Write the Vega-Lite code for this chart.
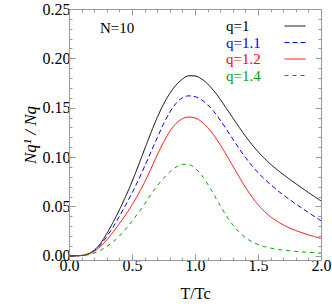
{
  "$schema": "https://vega.github.io/schema/vega-lite/v6.json",
  "width": 252,
  "height": 251,
  "autosize": {"type": "none"},
  "padding": {"left": 69, "top": 9, "right": 11, "bottom": 48},
  "config": {
    "view": {"stroke": null},
    "axis": {
      "domainColor": "#999999",
      "tickColor": "#999999",
      "labelFont": "Liberation Serif",
      "labelFontSize": 16,
      "labelColor": "#000000",
      "titleFont": "Liberation Serif",
      "titleFontSize": 16,
      "titleFontWeight": "normal",
      "titleColor": "#000000",
      "grid": false
    }
  },
  "datasets": {
    "curves": [
      {"T": 0, "q1": 0, "q11": 0, "q12": 0, "q14": 0},
      {"T": 0.05, "q1": 0, "q11": 0, "q12": 0, "q14": 0},
      {"T": 0.1, "q1": 0.0003, "q11": 0.0003, "q12": 0.0003, "q14": 0.0002},
      {"T": 0.15, "q1": 0.0018, "q11": 0.0017, "q12": 0.0016, "q14": 0.001},
      {"T": 0.2, "q1": 0.0055, "q11": 0.005, "q12": 0.0045, "q14": 0.0028},
      {"T": 0.25, "q1": 0.0125, "q11": 0.011, "q12": 0.0095, "q14": 0.0055},
      {"T": 0.3, "q1": 0.0225, "q11": 0.0195, "q12": 0.016, "q14": 0.0095},
      {"T": 0.35, "q1": 0.034, "q11": 0.029, "q12": 0.024, "q14": 0.014},
      {"T": 0.4, "q1": 0.0465, "q11": 0.04, "q12": 0.0325, "q14": 0.02},
      {"T": 0.45, "q1": 0.0602, "q11": 0.0515, "q12": 0.0415, "q14": 0.027},
      {"T": 0.5, "q1": 0.075, "q11": 0.0635, "q12": 0.0515, "q14": 0.035},
      {"T": 0.55, "q1": 0.0912, "q11": 0.0765, "q12": 0.0625, "q14": 0.0435},
      {"T": 0.6, "q1": 0.108, "q11": 0.0905, "q12": 0.0745, "q14": 0.0525},
      {"T": 0.65, "q1": 0.1245, "q11": 0.105, "q12": 0.088, "q14": 0.062},
      {"T": 0.7, "q1": 0.14, "q11": 0.1195, "q12": 0.102, "q14": 0.0708},
      {"T": 0.75, "q1": 0.1535, "q11": 0.1335, "q12": 0.115, "q14": 0.0785},
      {"T": 0.8, "q1": 0.1645, "q11": 0.1455, "q12": 0.126, "q14": 0.085},
      {"T": 0.85, "q1": 0.173, "q11": 0.1545, "q12": 0.134, "q14": 0.0898},
      {"T": 0.9, "q1": 0.179, "q11": 0.16, "q12": 0.1388, "q14": 0.0927},
      {"T": 0.95, "q1": 0.1823, "q11": 0.162, "q12": 0.1405, "q14": 0.0925},
      {"T": 1.0, "q1": 0.1822, "q11": 0.1612, "q12": 0.1395, "q14": 0.0888},
      {"T": 1.05, "q1": 0.1793, "q11": 0.1582, "q12": 0.136, "q14": 0.082},
      {"T": 1.1, "q1": 0.1742, "q11": 0.153, "q12": 0.13, "q14": 0.0728},
      {"T": 1.15, "q1": 0.167, "q11": 0.146, "q12": 0.122, "q14": 0.062},
      {"T": 1.2, "q1": 0.1585, "q11": 0.1375, "q12": 0.1125, "q14": 0.0508},
      {"T": 1.25, "q1": 0.1492, "q11": 0.128, "q12": 0.102, "q14": 0.0403},
      {"T": 1.3, "q1": 0.1397, "q11": 0.1182, "q12": 0.091, "q14": 0.0313},
      {"T": 1.35, "q1": 0.1303, "q11": 0.1087, "q12": 0.08, "q14": 0.024},
      {"T": 1.4, "q1": 0.1213, "q11": 0.0997, "q12": 0.0695, "q14": 0.0184},
      {"T": 1.45, "q1": 0.113, "q11": 0.0915, "q12": 0.06, "q14": 0.0143},
      {"T": 1.5, "q1": 0.1055, "q11": 0.0842, "q12": 0.0518, "q14": 0.0114},
      {"T": 1.55, "q1": 0.0988, "q11": 0.0779, "q12": 0.045, "q14": 0.0093},
      {"T": 1.6, "q1": 0.0928, "q11": 0.0721, "q12": 0.0395, "q14": 0.0078},
      {"T": 1.65, "q1": 0.0874, "q11": 0.0667, "q12": 0.035, "q14": 0.0066},
      {"T": 1.7, "q1": 0.0824, "q11": 0.0617, "q12": 0.0313, "q14": 0.0057},
      {"T": 1.75, "q1": 0.0776, "q11": 0.057, "q12": 0.0282, "q14": 0.005},
      {"T": 1.8, "q1": 0.073, "q11": 0.0525, "q12": 0.0256, "q14": 0.0044},
      {"T": 1.85, "q1": 0.0685, "q11": 0.0481, "q12": 0.0233, "q14": 0.0039},
      {"T": 1.9, "q1": 0.0641, "q11": 0.0438, "q12": 0.0212, "q14": 0.0034},
      {"T": 1.95, "q1": 0.0598, "q11": 0.0396, "q12": 0.0193, "q14": 0.003},
      {"T": 2.0, "q1": 0.0556, "q11": 0.0355, "q12": 0.0175, "q14": 0.0027}
    ],
    "note": [{"x": 0.246, "y": 0.231, "label": "N=10"}]
  },
  "layer": [
    {
      "data": {"name": "curves"},
      "transform": [{"fold": ["q1", "q11", "q12", "q14"], "as": ["q", "y"]}],
      "mark": {"type": "line", "strokeWidth": 1, "interpolate": "monotone"},
      "encoding": {
        "x": {
          "field": "T", "type": "quantitative",
          "scale": {"domain": [0, 2], "nice": false, "zero": false},
          "axis": {
            "orient": "bottom",
            "title": "T/Tc",
            "values": [0,0.1,0.2,0.3,0.4,0.5,0.6,0.7,0.8,0.9,1,1.1,1.2,1.3,1.4,1.5,1.6,1.7,1.8,1.9,2],
            "labelExpr": "round(datum.value*10) % 5 === 0 ? format(datum.value, '.1f') : ''",
            "tickSize": {"condition": {"test": "round(datum.value*10) % 5 === 0", "value": -6}, "value": -3},
            "labelPadding": 3,
            "labelFlush": false,
            "labelOverlap": false,
            "titlePadding": 9
          }
        },
        "y": {
          "field": "y", "type": "quantitative",
          "scale": {"domain": [-0.0043, 0.25], "nice": false, "zero": false},
          "axis": {
            "orient": "left",
            "title": "Nq¹ / Nq",
            "titleFontStyle": "italic",
            "titleFontSize": 17,
            "values": [0,0.01,0.02,0.03,0.04,0.05,0.06,0.07,0.08,0.09,0.1,0.11,0.12,0.13,0.14,0.15,0.16,0.17,0.18,0.19,0.2,0.21,0.22,0.23,0.24,0.25],
            "labelExpr": "round(datum.value*100) % 5 === 0 ? format(datum.value, '.2f') : ''",
            "tickSize": {"condition": {"test": "round(datum.value*100) % 5 === 0", "value": -6}, "value": -3},
            "labelPadding": 5,
            "labelFlush": false,
            "labelOverlap": false,
            "titlePadding": 3
          }
        },
        "color": {
          "field": "q", "type": "nominal",
          "scale": {"domain": ["q1", "q11", "q12", "q14"], "range": ["#000000", "#0000ff", "#ff0000", "#00a000"]},
          "legend": {
            "title": null, "orient": "none", "legendX": 218, "legendY": 9,
            "symbolType": "M-1.4,0L1.4,0", "symbolSize": 225, "symbolStrokeWidth": 1,
            "labelOffset": -77, "labelFont": "Liberation Serif", "labelFontSize": 15,
            "rowPadding": 0.5, "padding": 0,
            "labelExpr": "{'q1':'q=1','q11':'q=1.1','q12':'q=1.2','q14':'q=1.4'}[datum.value]",
            "encode": {"labels": {"update": {"fill": {"scale": "color", "field": "value"}}}}
          }
        },
        "strokeDash": {
          "field": "q", "type": "nominal",
          "scale": {"domain": ["q1", "q11", "q12", "q14"], "range": [[1, 0], [5, 3], [1, 0], [4, 4]]},
          "legend": {
            "title": null, "orient": "none", "legendX": 218, "legendY": 9,
            "symbolType": "M-1.4,0L1.4,0", "symbolSize": 225, "symbolStrokeWidth": 1,
            "labelOffset": -77, "labelFont": "Liberation Serif", "labelFontSize": 15,
            "rowPadding": 0.5, "padding": 0,
            "labelExpr": "{'q1':'q=1','q11':'q=1.1','q12':'q=1.2','q14':'q=1.4'}[datum.value]",
            "encode": {"labels": {"update": {"fill": {"scale": "color", "field": "value"}}}}
          }
        }
      }
    },
    {
      "data": {"name": "note"},
      "mark": {"type": "text", "align": "left", "baseline": "middle", "font": "Liberation Serif", "fontSize": 15, "color": "#000000"},
      "encoding": {
        "x": {
          "field": "x", "type": "quantitative",
          "scale": {"domain": [0, 2], "nice": false, "zero": false},
          "axis": {
            "orient": "top", "title": null, "labels": false,
            "values": [0,0.1,0.2,0.3,0.4,0.5,0.6,0.7,0.8,0.9,1,1.1,1.2,1.3,1.4,1.5,1.6,1.7,1.8,1.9,2],
            "tickSize": {"condition": {"test": "round(datum.value*10) % 5 === 0", "value": -6}, "value": -3}
          }
        },
        "y": {
          "field": "y", "type": "quantitative",
          "scale": {"domain": [-0.0043, 0.25], "nice": false, "zero": false},
          "axis": {
            "orient": "right", "title": null, "labels": false,
            "values": [0,0.01,0.02,0.03,0.04,0.05,0.06,0.07,0.08,0.09,0.1,0.11,0.12,0.13,0.14,0.15,0.16,0.17,0.18,0.19,0.2,0.21,0.22,0.23,0.24,0.25],
            "tickSize": {"condition": {"test": "round(datum.value*100) % 5 === 0", "value": -6}, "value": -3}
          }
        },
        "text": {"field": "label"}
      }
    }
  ],
  "resolve": {"axis": {"x": "independent", "y": "independent"}}
}
